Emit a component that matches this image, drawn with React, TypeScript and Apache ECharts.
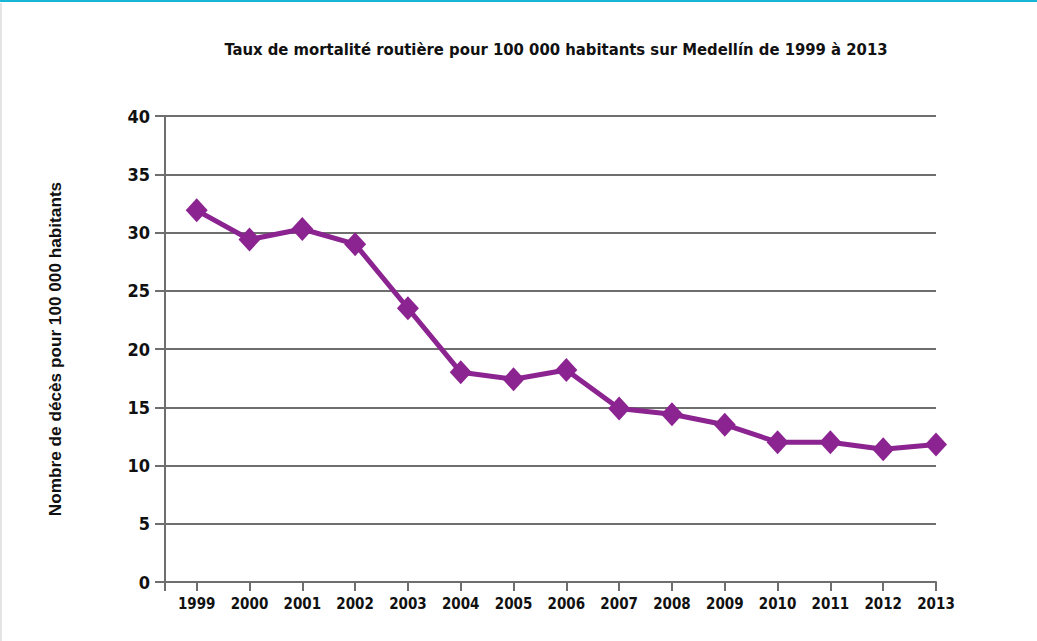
import React, { useEffect, useRef } from "react";
import * as echarts from "echarts";

const years = [1999, 2000, 2001, 2002, 2003, 2004, 2005, 2006, 2007, 2008, 2009, 2010, 2011, 2012, 2013];
const rates = [31.9, 29.4, 30.3, 29.0, 23.5, 18.0, 17.4, 18.2, 14.9, 14.4, 13.5, 12.0, 12.0, 11.4, 11.8];
const yTicks = [0, 5, 10, 15, 20, 25, 30, 35, 40];
const titleText = "Taux de mortalité routière pour 100 000 habitants sur Medellín de 1999 à 2013";
const yAxisName = "Nombre de décès pour 100 000 habitants";

const X_MIN = 1998.4;

export default function App() {
  const ref = useRef<HTMLDivElement>(null);
  useEffect(() => {
    const chart = echarts.init(ref.current!, null, { renderer: "svg" });
    const grey = "#6e6e6e";
    chart.setOption({
      animation: false,
      backgroundColor: "#ffffff",
      title: {
        text: titleText,
        left: 551,
        top: 36,
        textAlign: "center",
        textStyle: {
          fontFamily: "'DejaVu Sans Condensed', 'DejaVu Sans', sans-serif",
          fontWeight: "bold",
          fontSize: 16.5,
          color: "#111",
        },
      },
      graphic: [
        { type: "rect", shape: { x: 0, y: 0, width: 1037, height: 2 }, style: { fill: "#17b6d6" } },
        { type: "rect", shape: { x: 0, y: 3, width: 2, height: 638 }, style: { fill: "#e4e4e4" } },
      ],
      grid: { left: 165, right: 101, top: 116, bottom: 59 },
      xAxis: {
        type: "value",
        min: X_MIN,
        max: years[years.length - 1],
        splitLine: { show: false },
        axisLine: { show: true, onZero: false, lineStyle: { color: grey, width: 2 } },
        axisTick: {
          show: true,
          length: 9,
          customValues: [X_MIN, ...years],
          lineStyle: { color: grey, width: 2 },
        },
        axisLabel: {
          customValues: years,
          formatter: (v: number) => String(Math.round(v)),
          margin: 14,
          fontFamily: "'DejaVu Sans Condensed', 'DejaVu Sans', sans-serif",
          fontWeight: "bold",
          fontSize: 15,
          color: "#111",
        },
      },
      yAxis: {
        type: "value",
        min: 0,
        max: 40,
        interval: 5,
        name: yAxisName,
        nameLocation: "middle",
        nameGap: 102,
        nameTextStyle: {
          fontFamily: "'Liberation Sans', Arial, sans-serif",
          fontWeight: "bold",
          fontSize: 17.2,
          color: "#111",
        },
        axisLine: { show: true, lineStyle: { color: grey, width: 2 } },
        axisTick: { show: true, length: 10, lineStyle: { color: grey, width: 2 } },
        splitLine: { show: true, lineStyle: { color: grey, width: 2 } },
        axisLabel: {
          margin: 15,
          formatter: (v: number) => (yTicks.includes(v) ? String(v) : ""),
          fontFamily: "'DejaVu Sans Condensed', 'DejaVu Sans', sans-serif",
          fontWeight: "bold",
          fontSize: 18,
          color: "#111",
        },
      },
      series: [
        {
          type: "line",
          data: years.map((y, i) => [y, rates[i]]),
          symbol: "diamond",
          symbolSize: [22, 24],
          lineStyle: { color: "#8b2390", width: 5 },
          itemStyle: { color: "#8b2390" },
        },
      ],
    });
    return () => chart.dispose();
  }, []);
  return <div ref={ref} style={{ position: "fixed", left: 0, top: 0, width: 1037, height: 641 }} />;
}
